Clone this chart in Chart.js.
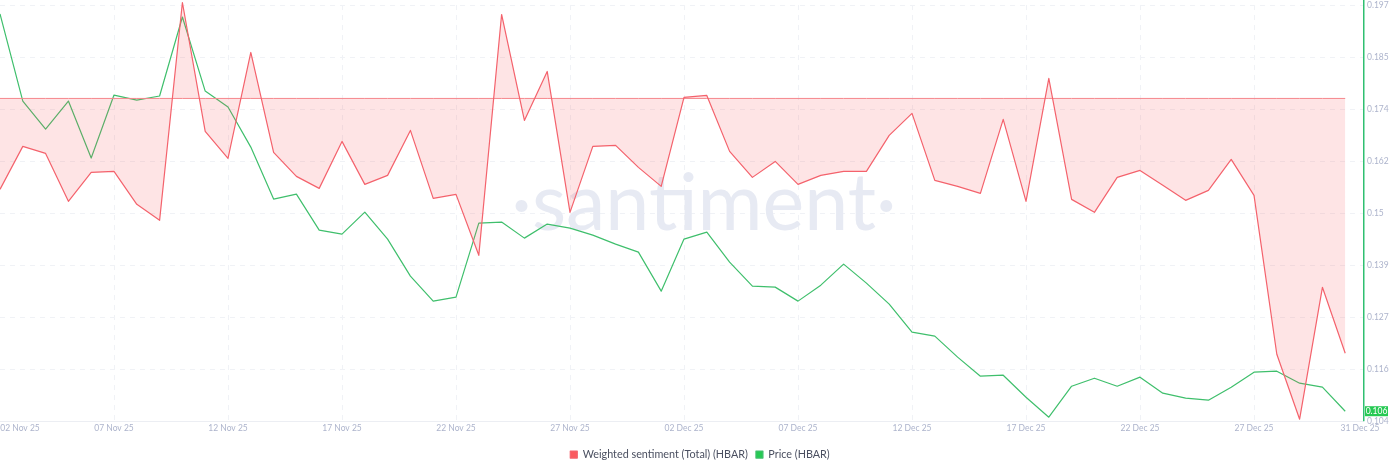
<!DOCTYPE html>
<html>
<head>
<meta charset="utf-8">
<title>HBAR weighted sentiment and price</title>
<script src="https://cdn.jsdelivr.net/npm/chart.js@4/dist/chart.umd.min.js"></script>
<style>
  html, body { margin: 0; padding: 0; background: #fff; }
  #wrap { width: 1400px; height: 473px; }
</style>
</head>
<body>
<div id="wrap"><canvas id="myChart"></canvas></div>
<script>
const xLabels = ["02 Nov 25", "07 Nov 25", "12 Nov 25", "17 Nov 25", "22 Nov 25", "27 Nov 25", "02 Dec 25", "07 Dec 25", "12 Dec 25", "17 Dec 25", "22 Dec 25", "27 Dec 25", "31 Dec 25"];
const xTickDays = [0, 5, 10, 15, 20, 25, 30, 35, 40, 45, 50, 55, 59];
const priceLabels = ["0.104", "0.116", "0.127", "0.139", "0.15", "0.162", "0.174", "0.185", "0.197"];
const lastPriceLabel = "0.106";

const sentiment = [-0.91, -0.48, -0.55, -1.03, -0.74, -0.73, -1.06, -1.22, 0.96, -0.33,
  -0.60, 0.46, -0.54, -0.78, -0.90, -0.43, -0.86, -0.77, -0.32, -1.00,
  -0.96, -1.57, 0.84, -0.22, 0.27, -1.14, -0.48, -0.47, -0.69, -0.88,
  0.01, 0.03, -0.53, -0.79, -0.63, -0.86, -0.77, -0.73, -0.73, -0.37,
  -0.15, -0.82, -0.88, -0.95, -0.21, -1.03, 0.20, -1.01, -1.14, -0.79,
  -0.72, -0.87, -1.02, -0.92, -0.61, -0.97, -2.56, -3.21, -1.89, -2.55];

const price = [0.19499, 0.17554, 0.16928, 0.17554, 0.16280, 0.17688, 0.17576, 0.17666, 0.19432, 0.17777,
  0.17420, 0.16525, 0.15363, 0.15475, 0.14670, 0.14580, 0.15072, 0.14469, 0.13642, 0.13083,
  0.13172, 0.14826, 0.14849, 0.14491, 0.14804, 0.14715, 0.14558, 0.14357, 0.14178, 0.13306,
  0.14469, 0.14625, 0.13955, 0.13418, 0.13396, 0.13083, 0.13440, 0.13910, 0.13485, 0.13016,
  0.12390, 0.12300, 0.11831, 0.11406, 0.11428, 0.10936, 0.10489, 0.11182, 0.11361, 0.11182,
  0.11384, 0.11026, 0.10914, 0.10869, 0.11160, 0.11495, 0.11518, 0.11249, 0.11160, 0.10623];

const zeroLine = sentiment.map(() => 0);

const red = "#f4626c";
const green = "#3fbf6c";
const tickColor = "#adb4cc";
const gridColor = "#f0f2f6";
const tickFont = { family: "Lato", size: 8.5 };

// watermark, edge date labels, price axis line and the last price badge
const extras = {
  id: "extras",
  beforeDatasetsDraw(chart) {
    const { ctx } = chart;
    ctx.save();
    ctx.fillStyle = "#e7eaf3";
    ctx.font = "400 79px Lato";
    ctx.textAlign = "center";
    ctx.textBaseline = "alphabetic";
    ctx.fillText("\u00b7santiment\u00b7", 704, 230);
    ctx.restore();
  },
  afterDraw(chart) {
    const { ctx, scales, chartArea } = chart;
    ctx.save();
    ctx.fillStyle = "#2fbf71";
    ctx.fillRect(Math.round(chartArea.right), chartArea.top - 5, 1.5, chartArea.bottom - chartArea.top + 5);

    ctx.font = "8.5px Lato";
    ctx.fillStyle = tickColor;
    ctx.textBaseline = "middle";
    ctx.textAlign = "center";
    ctx.fillText(xLabels[0], 20, 428);
    ctx.fillText(xLabels[xLabels.length - 1], 1360, 428);

    const y = scales.y.getPixelForValue(price[price.length - 1]);
    ctx.fillStyle = "#26c953";
    ctx.fillRect(1365, y - 5, 23, 10);
    ctx.fillStyle = "#fff";
    ctx.fillText(lastPriceLabel, 1376.5, y + 0.5);
    ctx.restore();
  }
};

new Chart("myChart", {
  type: "line",
  data: {
    datasets: [
      {
        label: "Weighted sentiment (Total) (HBAR)",
        data: sentiment.map((v, i) => ({ x: i, y: v })),
        yAxisID: "y1",
        borderColor: red,
        backgroundColor: "#fa5a5f",
        borderWidth: 1.2,
        borderJoinStyle: "round",
        pointRadius: 0,
        tension: 0,
        clip: false,
        fill: { value: 0, above: "rgba(250, 90, 95, 0.16)", below: "rgba(250, 90, 95, 0.16)" }
      },
      {
        label: "zero",
        data: zeroLine.map((v, i) => ({ x: i, y: v })),
        yAxisID: "y1",
        borderColor: "#f58a90",
        borderWidth: 1,
        pointRadius: 0,
        fill: false
      },
      {
        label: "Price (HBAR)",
        data: price.map((v, i) => ({ x: i, y: v })),
        yAxisID: "y",
        borderColor: green,
        backgroundColor: "#26c953",
        borderWidth: 1.2,
        borderJoinStyle: "round",
        pointRadius: 0,
        tension: 0,
        fill: false
      }
    ]
  },
  options: {
    responsive: true,
    maintainAspectRatio: false,
    animation: false,
    layout: { padding: { top: 5, left: 0, right: 0, bottom: 3 } },
    plugins: {
      tooltip: { enabled: false },
      legend: {
        position: "bottom",
        labels: {
          filter: (item) => item.text !== "zero",
          boxWidth: 7,
          boxHeight: 7,
          padding: 8,
          color: "#4a4f60",
          font: { family: "Lato", size: 10.8 }
        }
      }
    },
    scales: {
      x: {
        type: "linear",
        min: 0,
        max: 59.78,
        afterBuildTicks(axis) {
          axis.ticks = xTickDays.map((d) => ({ value: d }));
        },
        afterFit(axis) {
          axis.height = 20;
          axis.paddingLeft = 0;
          axis.paddingRight = 0;
        },
        ticks: {
          autoSkip: false,
          maxRotation: 0,
          color: tickColor,
          font: tickFont,
          padding: 2,
          callback(value) {
            const n = xTickDays.indexOf(value);
            // first and last dates are nudged inwards in the plugin
            return n > 0 && n < xLabels.length - 1 ? xLabels[n] : "";
          }
        },
        grid: {
          drawTicks: false,
          color(ctx) {
            return ctx.tick && (ctx.tick.value === 0 || ctx.tick.value === 59) ? "transparent" : gridColor;
          }
        },
        border: { color: "#eceef3", dash: [5, 5] }
      },
      y: {
        position: "right",
        min: 0.104,
        max: 0.197,
        afterBuildTicks(axis) {
          axis.ticks = priceLabels.map((t, i) => ({ value: 0.104 + i * (0.197 - 0.104) / 8 }));
        },
        afterFit(axis) {
          axis.width = 37;
          axis.paddingTop = 0;
          axis.paddingBottom = 0;
        },
        ticks: {
          color: tickColor,
          font: tickFont,
          padding: 4,
          callback(value, index) { return priceLabels[index]; }
        },
        grid: { drawTicks: false, color: gridColor },
        border: { display: false, dash: [5, 5] }
      },
      y1: {
        display: false,
        position: "right",
        min: -3.23,
        max: 0.935,
        grid: { drawOnChartArea: false }
      }
    }
  },
  plugins: [extras]
});
</script>
</body>
</html>
